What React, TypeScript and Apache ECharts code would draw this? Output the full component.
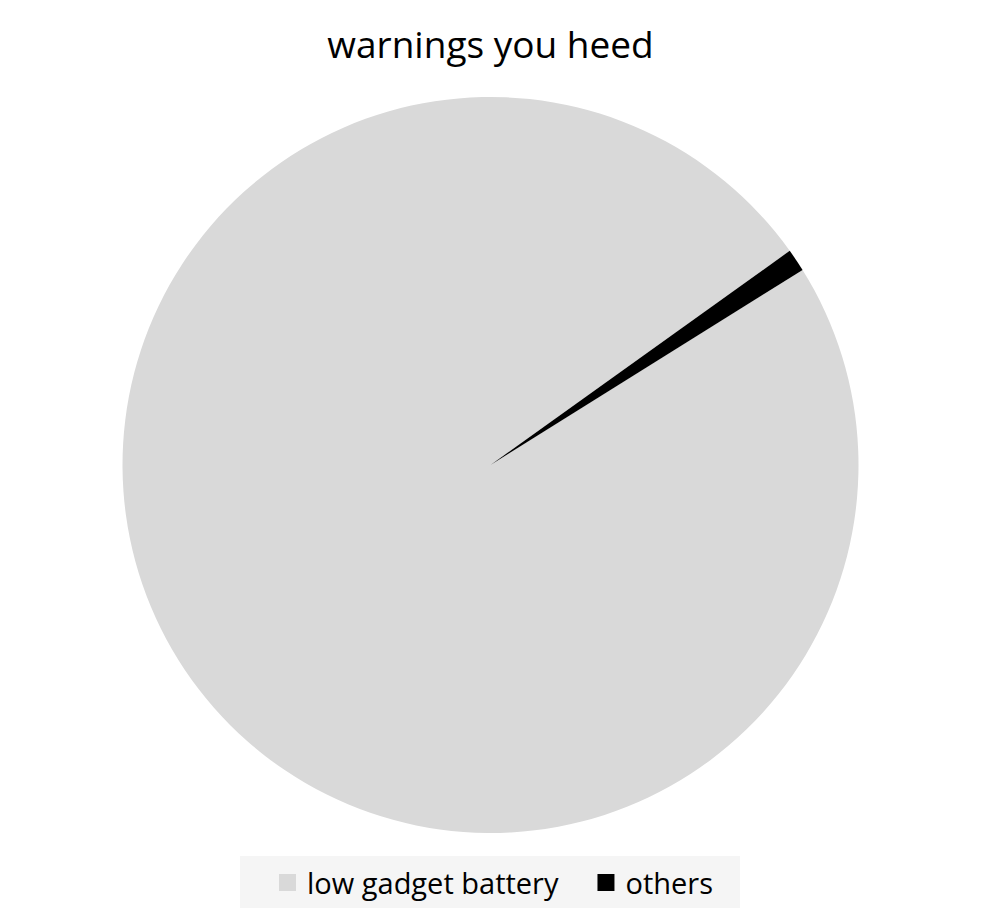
import React, { useEffect, useRef } from "react";
import * as echarts from "echarts";

const titleText = "warnings you heed";
const categories = ["low gadget battery", "others"];
const values = [99, 1];
const colors = ["#d9d9d9", "#000000"];

export default function App() {
  const ref = useRef<HTMLDivElement>(null);
  useEffect(() => {
    if (!ref.current) return;
    const chart = echarts.init(ref.current, null, { renderer: "svg" });
    chart.setOption({
      animation: false,
      backgroundColor: "#ffffff",
      title: {
        text: titleText,
        left: "center",
        top: 12,
        textStyle: {
          fontFamily: "Open Sans",
          fontWeight: "normal",
          fontSize: 37,
          color: "#000000",
        },
      },
      graphic: [
        {
          type: "rect",
          left: 232,
          top: 848,
          shape: { width: 500, height: 52 },
          style: { fill: "#f5f5f5" },
          z: -1,
        },
      ],
      legend: {
        top: 855,
        left: 266,
        itemWidth: 17,
        itemHeight: 17,
        itemGap: 39,
        icon: "rect",
        textStyle: {
          fontFamily: "Open Sans",
          fontSize: 29,
          color: "#000000",
          padding: [0, 0, 0, 6],
        },
        data: categories,
      },
      series: [
        {
          type: "pie",
          center: [482.5, 457],
          radius: 368,
          startAngle: 32,
          clockwise: true,
          label: { show: false },
          labelLine: { show: false },
          silent: true,
          itemStyle: { borderWidth: 0 },
          data: categories.map((c, i) => ({
            name: c,
            value: values[i],
            itemStyle: { color: colors[i] },
          })),
        },
      ],
    });
    return () => chart.dispose();
  }, []);
  return <div ref={ref} style={{ width: 965, height: 905 }} />;
}
